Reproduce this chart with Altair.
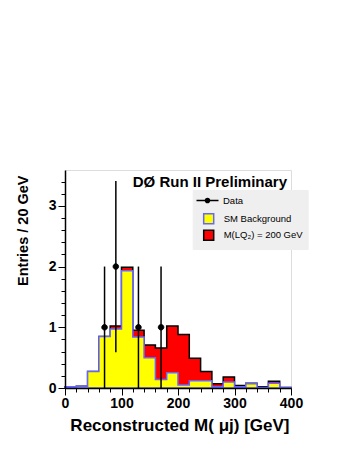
import altair as alt
import pandas as pd

# ---------------- data ----------------
bin_lo = [0, 20, 40, 60, 80, 100, 120, 140, 160, 180,
          200, 220, 240, 260, 280, 300, 320, 340, 360, 380]
bin_hi_last = 400
sm_bkg = [0.02, 0.03, 0.27, 0.85, 0.97, 1.93, 0.84, 0.50, 0.14, 0.25,
          0.05, 0.12, 0.12, 0.02, 0.10, 0.02, 0.07, 0.01, 0.08, 0.01]
sm_plus_lq = [0.02, 0.03, 0.27, 0.85, 1.02, 1.99, 0.95, 0.71, 0.66, 1.02,
              0.88, 0.49, 0.27, 0.07, 0.18, 0.04, 0.08, 0.02, 0.11, 0.01]
data_x = [70, 90, 130, 170]
data_y = [1, 2, 1, 1]
err_lo = [0.0, 0.59, 0.0, 0.0]
err_hi = [2.0, 3.41, 2.0, 2.0]

x_ticks = [0, 20, 40, 60, 80, 100, 120, 140, 160, 180, 200,
           220, 240, 260, 280, 300, 320, 340, 360, 380, 400]
y_ticks = [0.0, 0.2, 0.4, 0.6, 0.8, 1.0, 1.2, 1.4, 1.6, 1.8,
           2.0, 2.2, 2.4, 2.6, 2.8, 3.0, 3.2, 3.4]

SM_LABEL = "SM Background"
LQ_LABEL = "M(LQ\u2082) = 200 GeV"
DATA_LABEL = "Data"

# ---------------- tables ----------------
edges = bin_lo + [bin_hi_last]
sm_df = pd.DataFrame({"x": edges, "y": sm_bkg + [sm_bkg[-1]], "comp": SM_LABEL})
tot_df = pd.DataFrame({"x": edges, "y": sm_plus_lq + [sm_plus_lq[-1]], "comp": LQ_LABEL})
pts_df = pd.DataFrame({"x": data_x, "y": data_y, "lo": err_lo, "hi": err_hi,
                       "lab": DATA_LABEL})

FONT = "Liberation Sans"

x_axis = alt.Axis(
    title="Reconstructed M( \u03bcj) [GeV]", values=x_ticks, grid=False,
    labelExpr="datum.value % 100 === 0 ? format(datum.value, 'd') : ''",
    tickSize={"condition": {"test": "datum.value % 100 === 0", "value": 7}, "value": 4},
    tickColor="black", tickWidth=1, domainColor="black", domainWidth=1.5,
    labelFont=FONT, labelFontWeight="bold", labelFontSize=14, labelColor="black",
    labelPadding=1, labelOverlap=False, labelFlush=False,
    titleFont=FONT, titleFontWeight="bold", titleFontSize=17, titleColor="black",
    titleAnchor="end", titleAlign="right", titleBaseline="alphabetic",
    titleX=224, titleY=42, zindex=1,
)
y_axis = alt.Axis(
    title="Entries / 20 GeV", values=y_ticks, grid=False,
    labelExpr="datum.value % 1 === 0 ? format(datum.value, 'd') : ''",
    tickSize={"condition": {"test": "datum.value % 1 === 0", "value": 7}, "value": 4},
    tickColor="black", tickWidth=1, domainColor="black", domainWidth=1.5,
    labelFont=FONT, labelFontWeight="bold", labelFontSize=14, labelColor="black",
    labelPadding=2, labelOverlap=False, labelFlush=False,
    titleFont=FONT, titleFontWeight="bold", titleFontSize=14.5, titleColor="black",
    titleAnchor="end", titleAlign="right", titleBaseline="alphabetic", titleAngle=270,
    titleX=-37.7, titleY=5, zindex=1,
)

x_scale = alt.Scale(domain=[0, 400], nice=False, zero=False)
y_scale = alt.Scale(domain=[0, 3.59], nice=False)

comp_domain = [SM_LABEL, LQ_LABEL]
fill_scale = alt.Scale(domain=comp_domain, range=["#ffff00", "#ff0000"])
stroke_scale = alt.Scale(domain=comp_domain, range=["#6666ff", "#000000"])

legend_hist = alt.Legend(
    title="\u00a0", orient="none", legendX=127.7, legendY=20, padding=5,
    fillColor="#efefef", strokeColor="#efefef", cornerRadius=0,
    symbolType="square", symbolSize=100, symbolStrokeWidth=1.5,
    labelFont=FONT, labelFontSize=9.5, labelColor="black", labelOffset=9,
    symbolOffset=5, rowPadding=0.6, titleFontSize=10, titlePadding=7.7,
    zindex=1,
)
DATA_SYMBOL = ("M-1,-0.07L-0.2,-0.07L-0.2,0.07L-1,0.07Z"
               "M0.2,-0.07L1,-0.07L1,0.07L0.2,0.07Z"
               "M-0.26,0A0.26,0.26,0,1,1,0.26,0A0.26,0.26,0,1,1,-0.26,0Z")
legend_data = alt.Legend(
    title=None, orient="none", legendX=131, legendY=19, padding=0,
    symbolType=DATA_SYMBOL, symbolSize=484, symbolStrokeWidth=0.5,
    symbolFillColor="black", symbolStrokeColor="black",
    labelFont=FONT, labelFontSize=9.5, labelColor="black", labelOffset=4,
    zindex=2,
)

X = alt.X("x:Q", scale=x_scale, axis=x_axis)
Y = alt.Y("y:Q", scale=y_scale, axis=y_axis, stack=None)

area_tot = alt.Chart(tot_df).mark_area(
    interpolate="step-after", strokeWidth=1.5, opacity=1
).encode(
    x=X, y=Y,
    fill=alt.Fill("comp:N", scale=fill_scale, legend=legend_hist),
    stroke=alt.Stroke("comp:N", scale=stroke_scale, legend=legend_hist),
)
area_sm = alt.Chart(sm_df).mark_area(
    interpolate="step-after", strokeWidth=1.5, opacity=1
).encode(
    x=X, y=Y,
    fill=alt.Fill("comp:N", scale=fill_scale, legend=legend_hist),
    stroke=alt.Stroke("comp:N", scale=stroke_scale, legend=legend_hist),
)
err = alt.Chart(pts_df).mark_rule(color="black", strokeWidth=1.5).encode(
    x=X,
    y=alt.Y("lo:Q", scale=y_scale, axis=y_axis),
    y2="hi:Q",
)
pts = alt.Chart(pts_df).mark_point(
    filled=True, shape="circle", size=30, fill="black", stroke="black",
    strokeWidth=1, opacity=1
).encode(
    x=X, y=Y,
    strokeDash=alt.StrokeDash("lab:N", scale=alt.Scale(domain=[DATA_LABEL], range=[[1, 0]]),
                              legend=legend_data),
)

chart = alt.layer(area_tot, area_sm, err, pts).properties(
    width=226, height=218,
    autosize=alt.AutoSizeParams(type="none"),
    padding={"left": 57, "top": 162, "right": 40, "bottom": 55},
    title=alt.TitleParams(
        text="D\u00d8 Run II Preliminary", anchor="end", frame="group",
        font=FONT, fontSize=15, fontWeight="bold", color="black",
        baseline="alphabetic", offset=0, dy=31.5, dx=-4,
    ),
).configure_view(stroke="black", strokeWidth=1.5).configure(background="white")

chart.save("out.html", embed_options={"renderer": "svg", "actions": False})
